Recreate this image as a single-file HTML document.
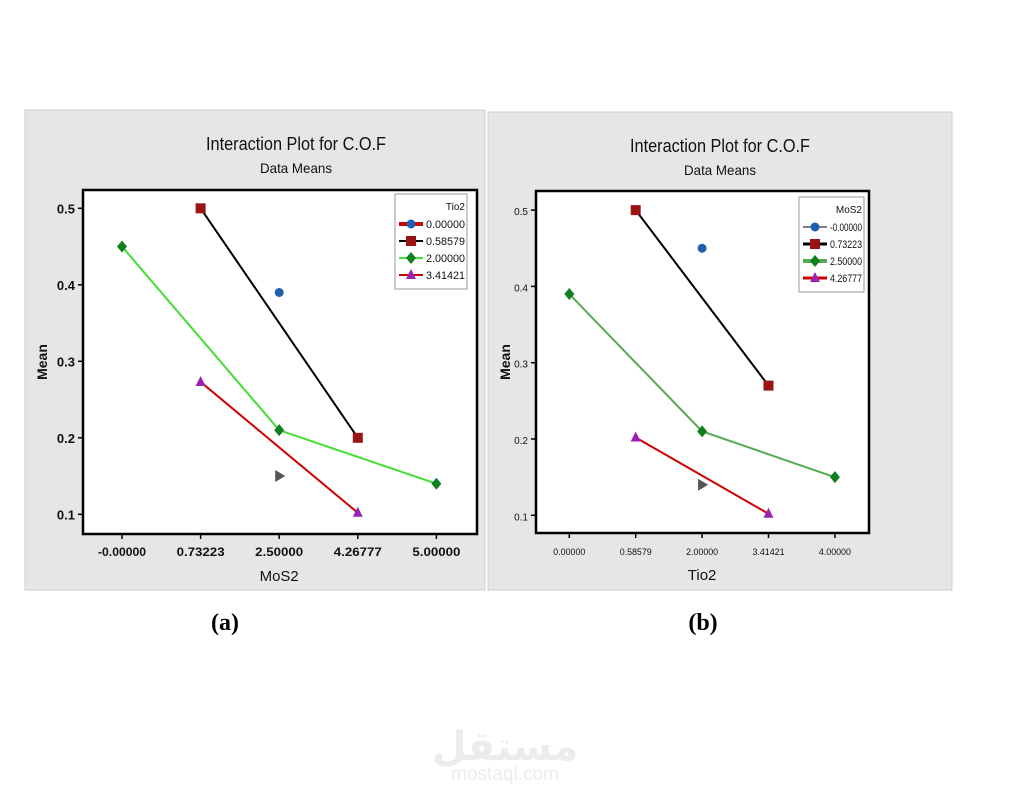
<!DOCTYPE html>
<html><head><meta charset="utf-8">
<style>
html,body{margin:0;padding:0;background:#fff;width:1016px;height:800px;overflow:hidden}
svg{display:block}
text{font-family:"Liberation Sans",sans-serif}
</style></head>
<body>
<svg id="root" width="1016" height="800" viewBox="0 0 1016 800">
  <text x="225" y="630" font-weight="bold" font-size="24" text-anchor="middle" style="font-family:'Liberation Serif',serif">(a)</text>
  <text x="703" y="630" font-weight="bold" font-size="24" text-anchor="middle" style="font-family:'Liberation Serif',serif">(b)</text>
  <g fill="#ececec">
    <text x="505" y="760" font-size="40" font-weight="bold" text-anchor="middle" style="font-family:'DejaVu Sans',sans-serif">مستقل</text>
    <text x="505" y="780" font-size="19" text-anchor="middle">mostaql.com</text>
  </g>
</svg>
<script>
// Panel (a): x = MoS2, series by Tio2
const catsA = ["-0.00000","0.73223","2.50000","4.26777","5.00000"];
const yTicksA = [0.1,0.2,0.3,0.4,0.5];
const legendA = ["0.00000","0.58579","2.00000","3.41421"];
const a_s0 = [[2,0.39]];
const a_s1 = [[1,0.5],[3,0.2]];
const a_s2 = [[0,0.45],[2,0.21],[4,0.14]];
const a_s3 = [[1,0.273],[3,0.102]];
const a_s4 = [[2,0.15]];
// Panel (b): x = Tio2, series by MoS2
const catsB = ["0.00000","0.58579","2.00000","3.41421","4.00000"];
const yTicksB = [0.1,0.2,0.3,0.4,0.5];
const legendB = ["-0.00000","0.73223","2.50000","4.26777"];
const b_s0 = [[2,0.45]];
const b_s1 = [[1,0.5],[3,0.27]];
const b_s2 = [[0,0.39],[2,0.21],[4,0.15]];
const b_s3 = [[1,0.202],[3,0.102]];
const b_s4 = [[2,0.14]];

const NS="http://www.w3.org/2000/svg";
const root=document.getElementById('root');
function mk(tag,attrs,parent){const e=document.createElementNS(NS,tag);for(const k in attrs)e.setAttribute(k,attrs[k]);(parent||root).appendChild(e);return e;}

function marker(g,shape,x,y,color){
  let e;
  if(shape==='circle'){e=mk('circle',{cx:x,cy:y,r:4.5,fill:color},g);}
  else if(shape==='square'){e=mk('rect',{x:x-5,y:y-5,width:10,height:10,fill:color},g);}
  else if(shape==='diamond'){e=mk('path',{d:`M${x} ${y-6}L${x+5} ${y}L${x} ${y+6}L${x-5} ${y}Z`,fill:color},g);}
  else if(shape==='tri'){e=mk('path',{d:`M${x} ${y-6}L${x+5} ${y+4}L${x-5} ${y+4}Z`,fill:color},g);}
  else {e=mk('path',{d:`M${x-4} ${y-6}L${x+6} ${y}L${x-4} ${y+6}Z`,fill:color},g);}
  
  
}

function panel(cfg){
  const g=mk('g',{});
  
  
  const bg=mk('rect',{x:cfg.bx,y:cfg.by,width:cfg.bw,height:cfg.bh,fill:'#e6e6e6',stroke:'#cfcfcf'},g);
  
  
  const t=mk('text',{x:cfg.tx,y:cfg.by+40,'font-size':18,'text-anchor':'middle',fill:'#111',textLength:180,lengthAdjust:'spacingAndGlyphs'},g);
  t.textContent='Interaction Plot for C.O.F';
  
  
  const st=mk('text',{x:cfg.tx,y:cfg.by+63,'font-size':14,'text-anchor':'middle',fill:'#111',textLength:72,lengthAdjust:'spacingAndGlyphs'},g);
  st.textContent='Data Means';
  
  
  const fr=mk('rect',{x:cfg.px,y:cfg.py,width:cfg.pw,height:cfg.ph,fill:'#fff',stroke:'#000','stroke-width':2.5},g);
  
  
  const X=i=>cfg.x0+i*cfg.dx;
  const Y=v=>cfg.y01+(v-0.1)*cfg.dy;
  cfg.yTicks.forEach(v=>{
    const l=mk('line',{x1:cfg.px-5,x2:cfg.px,y1:Y(v),y2:Y(v),stroke:'#000','stroke-width':1.5},g);
    
    
    const tx=mk('text',{x:cfg.px-8,y:Y(v)+5,'font-size':cfg.fs+1,'text-anchor':'end',fill:'#111','font-weight':cfg.bold?'bold':'normal'},g);
    tx.textContent=v.toFixed(1);
    
    
  });
  cfg.cats.forEach((c,i)=>{
    const l=mk('line',{x1:X(i),x2:X(i),y1:cfg.py+cfg.ph,y2:cfg.py+cfg.ph+5,stroke:'#000','stroke-width':1.5},g);
    
    
    const tx=mk('text',{x:X(i),y:cfg.py+cfg.ph+22,'font-size':cfg.fs,'text-anchor':'middle',fill:'#111','font-weight':cfg.bold?'bold':'normal',textLength:cfg.xtl,lengthAdjust:'spacingAndGlyphs'},g);
    tx.textContent=c;
    
    
  });
  const xt=mk('text',{x:X(2),y:cfg.py+cfg.ph+47,'font-size':15,'text-anchor':'middle',fill:'#111'},g);
  xt.textContent=cfg.xlabel;
  
  
  const yx=cfg.bx+22, yy=cfg.py+cfg.ph/2;
  const yt=mk('text',{x:yx,y:yy,'font-size':14,'font-weight':'bold','text-anchor':'middle',fill:'#111',transform:`rotate(-90 ${yx} ${yy})`},g);
  yt.textContent='Mean';
  
  
  const styles=[
    {c:'#cc0000',m:'circle',mc:'#1f5fb0'},
    {c:'#000',m:'square',mc:'#9b1414'},
    {c:cfg.green,m:'diamond',mc:'#0f7f1f'},
    {c:'#d00000',m:'tri',mc:'#9a22b0'},
    {c:'#888',m:'rtri',mc:'#555'}
  ];
  cfg.series.forEach((s,k)=>{
    const sg=mk('g',{},g);
    
    
    if(s.length>1){
      const p=mk('polyline',{points:s.map(d=>X(d[0])+','+Y(d[1])).join(' '),fill:'none',stroke:styles[k].c,'stroke-width':2},sg);
      
      
    }
    s.forEach(d=>marker(sg,styles[k].m,X(d[0]),Y(d[1]),styles[k].mc));
  });
  // legend
  const lg=mk('g',{},g);
  
  
  mk('rect',{x:cfg.lx,y:cfg.ly,width:cfg.lw,height:95,fill:'#fff',stroke:'#999'},lg);
  const lt=mk('text',{x:cfg.lx+cfg.lw-2,y:cfg.ly+16,'font-size':10,'text-anchor':'end',fill:'#111'},lg);
  lt.textContent=cfg.ltitle;
  cfg.legend.forEach((n,k)=>{
    const yy2=cfg.ly+30+k*17;
    const e=mk('g',{},lg);
    
    
    mk('line',{x1:cfg.lx+4,x2:cfg.lx+28,y1:yy2,y2:yy2,stroke:cfg.legLine[k],'stroke-width':cfg.legW[k]},e);
    marker(e,styles[k].m,cfg.lx+16,yy2,styles[k].mc);
    const tx=mk('text',{x:cfg.lx+cfg.lw-2,y:yy2+4,'font-size':11,'text-anchor':'end',fill:'#111',textLength:cfg.lw-33,lengthAdjust:'spacingAndGlyphs'},e);
    tx.textContent=n;
  });
}

panel({name:'panel-a',bx:25,by:110,bw:460,bh:480,tx:296,px:83,py:190,pw:394,ph:344,
  x0:122,dx:78.6,y01:514.3,dy:-765,cats:catsA,yTicks:yTicksA,fs:12,xtl:48,bold:true,xlabel:'MoS2',green:'#44dd33',
  series:[a_s0,a_s1,a_s2,a_s3,a_s4],legend:legendA,ltitle:'Tio2',lx:395,ly:194,lw:72,
  legLine:['#cc0000','#000','#44dd33','#cc0000'],legW:[4,2,2,2]});
panel({name:'panel-b',bx:488,by:112,bw:464,bh:478,tx:720,px:536,py:191,pw:333,ph:342,
  x0:569.3,dx:66.4,y01:515.3,dy:-763,cats:catsB,yTicks:yTicksB,fs:9,xtl:32,bold:false,xlabel:'Tio2',green:'#55aa55',
  series:[b_s0,b_s1,b_s2,b_s3,b_s4],legend:legendB,ltitle:'MoS2',lx:799,ly:197,lw:65,
  legLine:['#000','#000','#55aa55','#cc0000'],legW:[1,3,4,3]});
</script>
</body></html>
